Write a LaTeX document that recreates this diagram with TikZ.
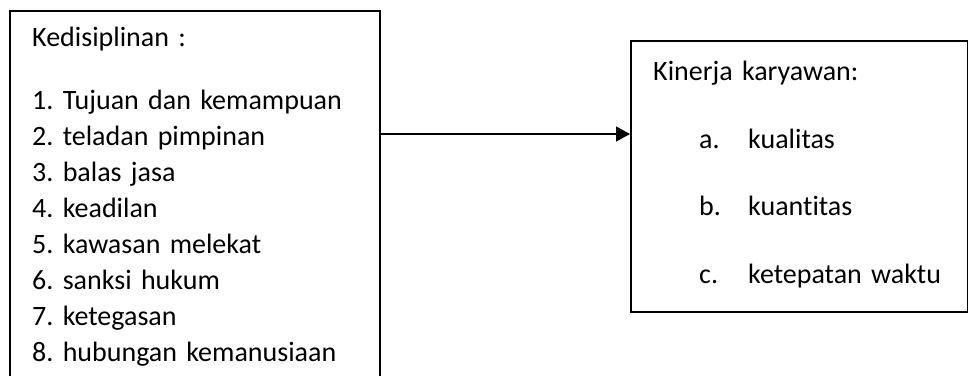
\documentclass[tikz,border=0pt]{standalone}
\usepackage{fontspec}
\setmainfont[Ligatures=NoCommon]{Carlito}
\usetikzlibrary{positioning,arrows.meta}

\tikzset{
  kotak/.style={draw, line width=2.4pt, align=left, anchor=north west,
    inner xsep=22pt},
  panah/.style={line width=1.3pt, -{Triangle[length=14pt,width=15pt]}},
}
\newcommand{\butir}[2]{\hspace*{46pt}\makebox[49pt][l]{#1}\mbox{#2}}

\begin{document}
\begin{tikzpicture}[x=1pt, y=-1pt]
  \useasboundingbox (0,0) rectangle (968,375);
  \clip (0,0) rectangle (968,375);

  % Define nodes
  \node[kotak, text width=326pt, inner ysep=16pt,
        font=\fontsize{28}{36}\selectfont\frenchspacing] (disiplin) at (9,10)
    {Kedisiplinan :\\[27pt]
     1. Tujuan dan kemampuan\\
     2. teladan pimpinan\\
     3. balas jasa\\
     4. keadilan\\
     5. kawasan melekat\\
     6. sanksi hukum\\
     7. ketegasan\\
     8. hubungan kemanusiaan};
  \node[kotak, text width=293pt, minimum width=337pt, inner ysep=20pt,
        font=\fontsize{28}{67.5}\selectfont\frenchspacing] (kinerja) at (630,40)
    {Kinerja karyawan:\\
     \butir{a.}{kualitas}\\
     \butir{b.}{kuantitas}\\
     \butir{c.}{ketepatan waktu}\rule[-9pt]{0pt}{9pt}};

  % Connect the nodes
  \coordinate (garis) at (0,134);
  \draw[panah] (disiplin.east |- garis) -- (kinerja.west |- garis);

\end{tikzpicture}
\end{document}
